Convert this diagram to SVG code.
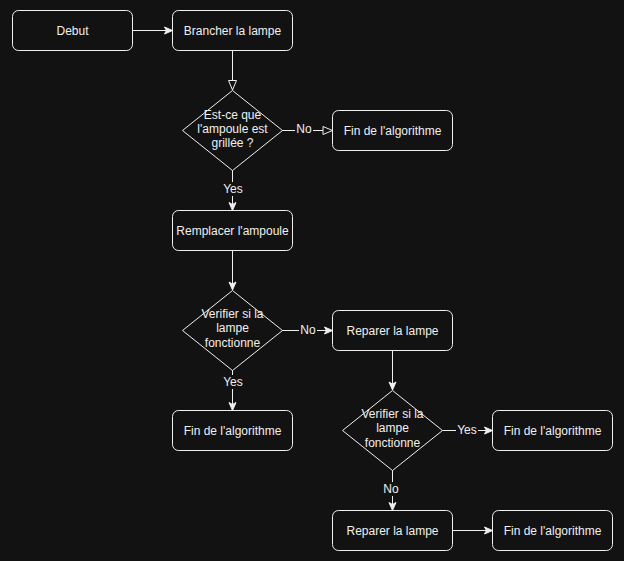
<svg xmlns="http://www.w3.org/2000/svg" width="624" height="561" viewBox="0 0 624 561">
<defs>
<style>
.n{fill:#121212;stroke:#f0f0f0;stroke-width:1}
.t{font-family:"Liberation Sans",Arial,sans-serif;font-size:12px;fill:#f0f0f0;text-anchor:middle}
.e{fill:none;stroke:#f0f0f0;stroke-width:1}
.lb{fill:#121212}
</style>
<marker id="arr" markerUnits="userSpaceOnUse" markerWidth="10" markerHeight="10" viewBox="0 0 10 10" refX="9" refY="5" orient="auto">
<path d="M1,1.5 L9,5 L1,8.5 L3,5 Z" fill="#f0f0f0" stroke="#f0f0f0" stroke-width="1"/>
</marker>
<marker id="open" markerUnits="userSpaceOnUse" markerWidth="12" markerHeight="12" viewBox="0 0 12 12" refX="10.5" refY="6" orient="auto">
<path d="M1,2 L10.5,6 L1,10 Z" fill="#121212" stroke="#f0f0f0" stroke-width="1"/>
</marker>
</defs>
<rect width="624" height="561" fill="#121212"/>
<g id="connectors">
<path class="e" d="M132.5,30.5 L172.5,30.5" marker-end="url(#arr)"/>
<path class="e" d="M232.5,50.5 L232.5,90" marker-end="url(#open)"/>
<path class="e" d="M282,130.5 L332.5,130.5" marker-end="url(#open)"/>
<rect class="lb" x="295" y="122" width="18" height="14"/>
<text class="t" x="304" y="133">No</text>
<path class="e" d="M232.5,170 L232.5,210.5" marker-end="url(#arr)"/>
<rect class="lb" x="222" y="182" width="22" height="14"/>
<text class="t" x="233" y="193">Yes</text>
<path class="e" d="M232.5,250.5 L232.5,290" marker-end="url(#arr)"/>
<path class="e" d="M282,330.5 L332.5,330.5" marker-end="url(#arr)"/>
<rect class="lb" x="299" y="323" width="18" height="14"/>
<text class="t" x="308" y="334">No</text>
<path class="e" d="M232.5,370 L232.5,410.5" marker-end="url(#arr)"/>
<rect class="lb" x="222" y="375" width="22" height="14"/>
<text class="t" x="233" y="386">Yes</text>
<path class="e" d="M392.5,350.5 L392.5,390" marker-end="url(#arr)"/>
<path class="e" d="M442,430.5 L492.5,430.5" marker-end="url(#arr)"/>
<rect class="lb" x="456" y="423" width="22" height="14"/>
<text class="t" x="467" y="434">Yes</text>
<path class="e" d="M392.5,470 L392.5,510.5" marker-end="url(#arr)"/>
<rect class="lb" x="382" y="482" width="18" height="14"/>
<text class="t" x="391" y="493">No</text>
<path class="e" d="M452.5,530.5 L492.5,530.5" marker-end="url(#arr)"/>
</g>
<g id="debut"><rect class="n" x="12.5" y="10.5" width="120" height="40" rx="6"/><text class="t" x="72.5" y="34.5">Debut</text></g>
<g id="brancher"><rect class="n" x="172.5" y="10.5" width="120" height="40" rx="6"/><text class="t" x="232.5" y="34.5">Brancher la lampe</text></g>
<g id="q1"><path class="n" d="M232.5,90.5 L282.5,130.5 L232.5,170.5 L182.5,130.5 Z"/>
<text class="t" x="232.5" y="118.5">Est-ce que</text><text class="t" x="232.5" y="132.5">l'ampoule est</text><text class="t" x="232.5" y="146.5">grillée ?</text></g>
<g id="fin1"><rect class="n" x="332.5" y="110.5" width="120" height="40" rx="6"/><text class="t" x="392.5" y="134.5">Fin de l'algorithme</text></g>
<g id="remplacer"><rect class="n" x="172.5" y="210.5" width="120" height="40" rx="6"/><text class="t" x="232.5" y="234.5">Remplacer l'ampoule</text></g>
<g id="q2"><path class="n" d="M232.5,290.5 L282.5,330.5 L232.5,370.5 L182.5,330.5 Z"/>
<text class="t" x="232.5" y="317.5">Verifier si la</text><text class="t" x="232.5" y="332">lampe</text><text class="t" x="232.5" y="346.5">fonctionne</text></g>
<g id="reparer1"><rect class="n" x="332.5" y="310.5" width="120" height="40" rx="6"/><text class="t" x="392.5" y="334.5">Reparer la lampe</text></g>
<g id="fin2"><rect class="n" x="172.5" y="410.5" width="120" height="40" rx="6"/><text class="t" x="232.5" y="434.5">Fin de l'algorithme</text></g>
<g id="q3"><path class="n" d="M392.5,390.5 L442.5,430.5 L392.5,470.5 L342.5,430.5 Z"/>
<text class="t" x="392.5" y="417.5">Verifier si la</text><text class="t" x="392.5" y="432">lampe</text><text class="t" x="392.5" y="446.5">fonctionne</text></g>
<g id="fin3"><rect class="n" x="492.5" y="410.5" width="120" height="40" rx="6"/><text class="t" x="552.5" y="434.5">Fin de l'algorithme</text></g>
<g id="reparer2"><rect class="n" x="332.5" y="510.5" width="120" height="40" rx="6"/><text class="t" x="392.5" y="534.5">Reparer la lampe</text></g>
<g id="fin4"><rect class="n" x="492.5" y="510.5" width="120" height="40" rx="6"/><text class="t" x="552.5" y="534.5">Fin de l'algorithme</text></g>
</svg>
